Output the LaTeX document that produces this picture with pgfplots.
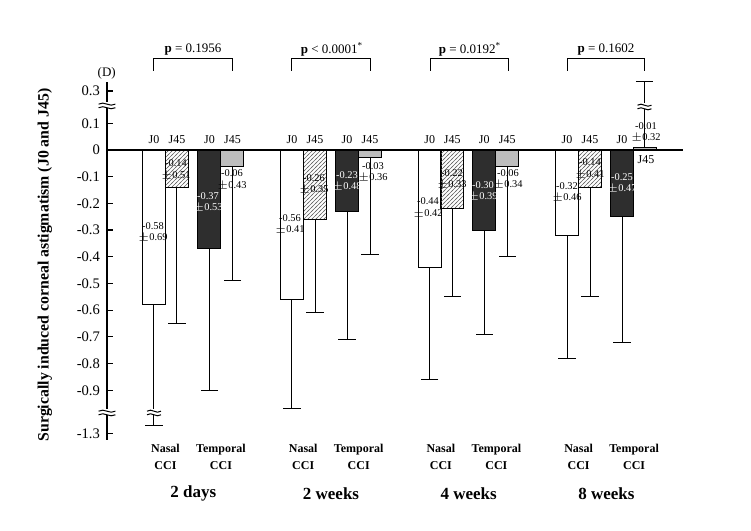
\documentclass[border=0pt]{standalone}
\usepackage{fontspec}
\setmainfont{Liberation Serif}
\usepackage{pgfplots}
\pgfplotsset{compat=1.18}
\usetikzlibrary{patterns.meta}

\tikzdeclarepattern{
  name=myhatch,
  type=uncolored,
  bounding box={(-0.5pt,-0.5pt) and (2.5pt,2.5pt)},
  tile size={(2pt,2pt)},
  code={\draw[line width=0.3pt] (-0.5pt,-0.5pt) -- (2.5pt,2.5pt);}
}
\definecolor{darkbar}{HTML}{2E2E2E}
\definecolor{lightbar}{HTML}{BDBDBD}

\newcommand{\brk}[3]{%
  \node[inner sep=0pt, outer sep=0pt] at (axis cs:#1,#2) {\tikz{%
    \fill[white] (-#3,-1.3pt) rectangle (#3,1.3pt);
    \draw[line width=0.5pt] (-#3,0.4pt) .. controls (-#3/3,2.2pt) and (#3/3,-1.4pt) .. (#3,0.4pt);
    \draw[line width=0.5pt] (-#3,-1.4pt) .. controls (-#3/3,0.4pt) and (#3/3,-3.2pt) .. (#3,-1.4pt);}};}
\newcommand{\vlab}[4]{\node[inner sep=0pt, align=center, text=#4, font=\fontsize{5.2}{5.7}\selectfont] at (axis cs:#1,#2) {#3};}
\newcommand{\hlab}[2]{\node[font=\fontsize{6}{7}\selectfont, inner sep=0pt] at (axis cs:#1,0.0375) {#2};}
\newcommand{\grp}[4]{%
  \node[align=center, font=\bfseries\fontsize{6}{8.5}\selectfont] at (axis cs:#1,-1.148) {Nasal\\CCI};
  \node[align=center, font=\bfseries\fontsize{6}{8.5}\selectfont] at (axis cs:#2,-1.148) {Temporal\\CCI};
  \node[font=\bfseries\fontsize{8.5}{10}\selectfont] at (axis cs:#3,-1.287) {#4};}
\newcommand{\pbrack}[2]{\draw[line width=0.5pt] (axis cs:#1,0.297) -- (axis cs:#1,0.341) -- (axis cs:#2,0.341) -- (axis cs:#2,0.297);}

\pgfplotsset{
  myerrm/.style={error bars/.cd, y explicit, y dir=minus,
    error mark=-, error mark options={rotate=90, mark size=4.3pt, line width=0.5pt, black},
    error bar style={line width=0.5pt, black}},
  myerrp/.style={error bars/.cd, y explicit, y dir=plus,
    error mark=-, error mark options={rotate=90, mark size=4.3pt, line width=0.5pt, black},
    error bar style={line width=0.5pt, black}}}

\begin{document}
\begin{tikzpicture}
\begin{axis}[
  x=0.5pt, y=133.5pt,
  xmin=107, xmax=683, ymin=-1.086, ymax=0.256,
  axis x line=none, axis y line=left,
  y axis line style={-, line width=0.8pt},
  xtick=\empty,
  ytick={-1.063,-0.9,-0.8,-0.7,-0.6,-0.5,-0.4,-0.3,-0.2,-0.1,0,0.1,0.221},
  yticklabels={-1.3,-0.9,-0.8,-0.7,-0.6,-0.5,-0.4,-0.3,-0.2,-0.1,0,0.1,0.3},
  ytick align=inside, major tick length=3pt,
  ytick style={line width=0.6pt, black},
  yticklabel style={font=\fontsize{7.3}{8}\selectfont},
  clip=false, enlargelimits=false,
  ybar, bar width=23,
]
% Nasal J0
\addplot[draw=black, fill=white, line width=0.5pt, bar shift=0pt, myerrm]
  coordinates {(154,-0.58) -= (0,0.451) (292,-0.56) -= (0,0.41) (429.7,-0.44) -= (0,0.42) (567,-0.32) -= (0,0.46)};
% Nasal J45
\addplot[draw=black, pattern=myhatch, pattern color=gray!80!black, line width=0.5pt, bar shift=0pt, myerrm]
  coordinates {(177,-0.14) -= (0,0.51) (315,-0.26) -= (0,0.35) (452.3,-0.22) -= (0,0.33) (590,-0.14) -= (0,0.41)};
% Temporal J0
\addplot[draw=black, fill=darkbar, line width=0.5pt, bar shift=0pt, myerrm]
  coordinates {(209.5,-0.37) -= (0,0.53) (347,-0.23) -= (0,0.48) (484.2,-0.30) -= (0,0.39) (622,-0.25) -= (0,0.47)};
% Temporal J45
\addplot[draw=black, fill=lightbar, line width=0.5pt, bar shift=0pt, myerrm]
  coordinates {(232.5,-0.06) -= (0,0.43) (370,-0.03) -= (0,0.36) (507.2,-0.06) -= (0,0.34)};
\addplot[draw=black, fill=lightbar, line width=0.5pt, bar shift=0pt, myerrp]
  coordinates {(644.5,0.01) += (0,0.245)};

% zero line
\draw[line width=0.8pt] (axis cs:107,0) -- (axis cs:683,0);
% breaks
\brk{107}{0.165}{4.2pt}
\brk{107}{-0.985}{4.2pt}
\brk{154}{-0.985}{3.5pt}
\brk{644.5}{0.161}{3.5pt}

% headers
\hlab{154}{J0}\hlab{177}{J45}\hlab{209.5}{J0}\hlab{232.5}{J45}
\hlab{292}{J0}\hlab{315}{J45}\hlab{347}{J0}\hlab{370}{J45}
\hlab{429.7}{J0}\hlab{452.3}{J45}\hlab{484.2}{J0}\hlab{507.2}{J45}
\hlab{567}{J0}\hlab{590}{J45}\hlab{622}{J0}
\node[font=\fontsize{6}{7}\selectfont, inner sep=0pt] at (axis cs:646,-0.037) {J45};

% value labels
\vlab{153}{-0.309}{-0.58\\$\pm$0.69}{black}
\vlab{176}{-0.075}{-0.14\\$\pm$0.51}{black}
\vlab{208}{-0.197}{-0.37\\$\pm$0.53}{white}
\vlab{232}{-0.112}{-0.06\\$\pm$0.43}{black}
\vlab{290}{-0.279}{-0.56\\$\pm$0.41}{black}
\vlab{314}{-0.129}{-0.26\\$\pm$0.35}{black}
\vlab{347}{-0.118}{-0.23\\$\pm$0.48}{white}
\vlab{373}{-0.084}{-0.03\\$\pm$0.36}{black}
\vlab{428}{-0.217}{-0.44\\$\pm$0.42}{black}
\vlab{452}{-0.109}{-0.22\\$\pm$0.33}{black}
\vlab{483}{-0.154}{-0.30\\$\pm$0.39}{white}
\vlab{508}{-0.109}{-0.06\\$\pm$0.34}{black}
\vlab{567}{-0.159}{-0.32\\$\pm$0.46}{black}
\vlab{590}{-0.071}{-0.14\\$\pm$0.41}{black}
\vlab{622}{-0.125}{-0.25\\$\pm$0.47}{white}
\vlab{646}{0.066}{-0.01\\$\pm$0.32}{black}

% brackets and p-values
\pbrack{154}{232.5}\pbrack{292}{370}\pbrack{430.5}{508}\pbrack{567}{644.5}
\node[font=\fontsize{6.5}{8}\selectfont] at (axis cs:193,0.378) {\textbf{p} = 0.1956};
\node[font=\fontsize{6.5}{8}\selectfont] at (axis cs:332,0.378) {\textbf{p} < 0.0001\textsuperscript{*}};
\node[font=\fontsize{6.5}{8}\selectfont] at (axis cs:470,0.378) {\textbf{p} = 0.0192\textsuperscript{*}};
\node[font=\fontsize{6.5}{8}\selectfont] at (axis cs:606,0.378) {\textbf{p} = 0.1602};

\node[font=\fontsize{6.5}{8}\selectfont] at (axis cs:106.7,0.288) {(D)};

% y label
\node[rotate=90, font=\bfseries\fontsize{7.9}{9}\selectfont] at (axis cs:45,-0.431) {Surgically induced corneal astigmatism (J0 and J45)};

% category labels
\grp{165.5}{221}{193.3}{2 days}
\grp{303.2}{358.7}{331}{2 weeks}
\grp{440.9}{496.4}{468.7}{4 weeks}
\grp{578.6}{634.1}{606.4}{8 weeks}

\coordinate (bbA) at (axis cs:0,0.5618);
\coordinate (bbB) at (axis cs:751,-1.427);
\end{axis}
\pgfresetboundingbox
\path[use as bounding box] (bbA) rectangle (bbB);
\end{tikzpicture}
\end{document}
